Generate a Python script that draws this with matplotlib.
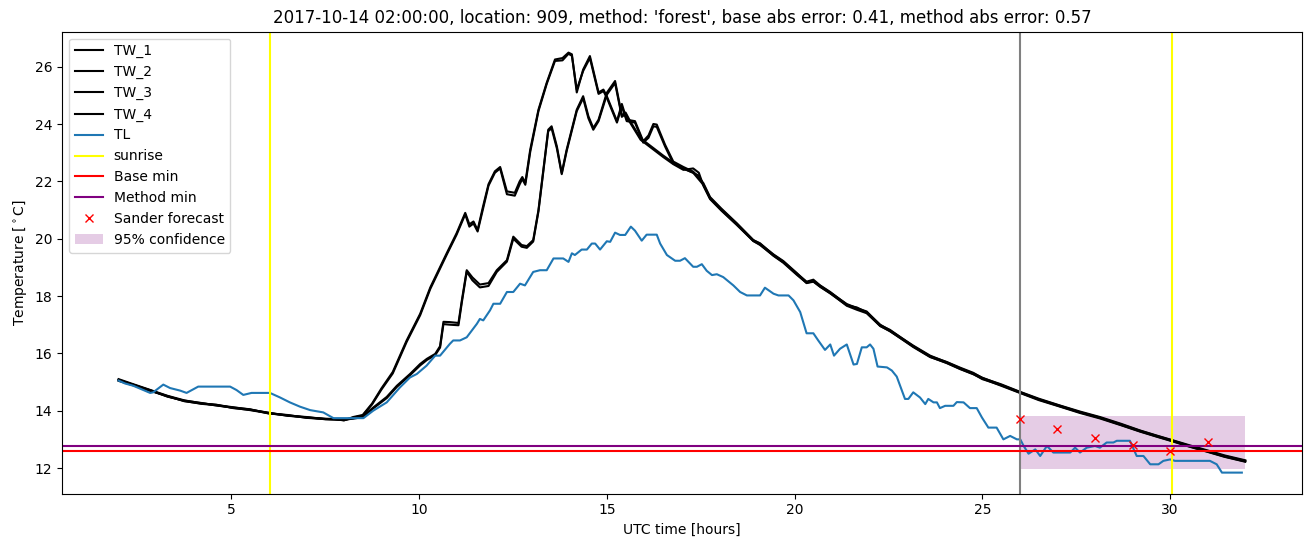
import numpy as np
import matplotlib
matplotlib.use("Agg")
import matplotlib.pyplot as plt

# vertices (hours, deg C)
t_a = [2.0, 2.4, 2.85, 3.3, 3.75, 4.2, 4.6, 5.05, 5.5, 6.0, 6.5, 7.0, 7.5, 7.75, 8.0, 8.25, 8.5,
       8.75, 9.0, 9.3, 9.67, 10.03, 10.3, 10.74, 11.0, 11.23, 11.34, 11.45, 11.56, 11.7, 11.85,
       12.02, 12.16, 12.34, 12.55, 12.68, 12.75, 12.83, 12.96, 13.18, 13.4, 13.62, 13.82, 13.98,
       14.07, 14.2, 14.37, 14.55, 14.78, 14.91, 15.0, 15.13, 15.27, 15.4, 15.53, 15.75, 15.97,
       16.11, 16.24, 16.33, 16.55, 16.77, 17.04, 17.3, 17.57, 17.75, 18.05, 18.46, 18.9, 19.08,
       19.44, 19.7, 20.06, 20.32, 20.5, 20.68, 20.95, 21.39, 21.66, 21.92, 22.28, 22.54, 23.16,
       23.61, 24.05, 24.41, 24.76, 25.0, 25.5, 26.0, 26.5, 27.07, 27.6, 28.13, 28.7, 29.2, 29.65,
       30.09, 30.5, 30.98, 31.45, 32.0]
tw_1 = [15.10, 14.92, 14.72, 14.52, 14.36, 14.26, 14.20, 14.12, 14.04, 13.92, 13.84, 13.77, 13.72,
        13.71, 13.66, 13.78, 13.85, 14.25, 14.78, 15.35, 16.45, 17.38, 18.3, 19.5, 20.19, 20.9,
        20.5, 20.6, 20.3, 21.1, 21.9, 22.35, 22.5, 21.65, 21.6, 22.0, 22.15, 21.95, 23.1, 24.5,
        25.44, 26.25, 26.3, 26.49, 26.43, 25.1, 25.9, 26.37, 25.1, 25.2, 24.97, 24.55, 24.1, 24.7,
        24.15, 24.1, 23.4, 23.6, 24.0, 23.98, 23.28, 22.69, 22.5, 22.34, 21.94, 21.45, 21.05,
        20.54, 19.95, 19.84, 19.43, 19.2, 18.78, 18.5, 18.57, 18.37, 18.14, 17.7, 17.56, 17.44,
        17.0, 16.8, 16.27, 15.92, 15.69, 15.48, 15.3, 15.15, 14.9, 14.65, 14.4, 14.17, 13.95,
        13.76, 13.52, 13.3, 13.12, 12.95, 12.78, 12.6, 12.42, 12.25]
tw_2 = [15.06, 14.90, 14.70, 14.50, 14.34, 14.24, 14.19, 14.10, 14.02, 13.91, 13.83, 13.76, 13.71,
        13.70, 13.68, 13.76, 13.83, 14.22, 14.74, 15.30, 16.40, 17.33, 18.25, 19.45, 20.14, 20.85,
        20.42, 20.53, 20.25, 21.02, 21.85, 22.3, 22.45, 21.55, 21.5, 21.9, 22.08, 21.88, 23.02,
        24.45, 25.4, 26.2, 26.22, 26.45, 26.38, 25.2, 25.85, 26.3, 25.05, 25.15, 24.92, 24.5,
        24.05, 24.62, 24.1, 24.05, 23.35, 23.52, 23.92, 23.9, 23.22, 22.62, 22.44, 22.3, 21.88,
        21.4, 21.0, 20.5, 19.92, 19.8, 19.4, 19.16, 18.74, 18.46, 18.52, 18.33, 18.1, 17.66,
        17.52, 17.4, 16.96, 16.77, 16.24, 15.88, 15.66, 15.45, 15.27, 15.12, 14.87, 14.62, 14.37,
        14.14, 13.92, 13.73, 13.49, 13.27, 13.09, 12.92, 12.75, 12.57, 12.39, 12.22]

t_b = [2.0, 2.4, 2.85, 3.3, 3.75, 4.2, 4.6, 5.05, 5.5, 6.0, 6.5, 7.0, 7.5, 7.75, 8.0, 8.25, 8.5,
       8.78, 9.14, 9.41, 9.76, 10.03, 10.21, 10.43, 10.56, 10.65, 10.82, 11.05, 11.14, 11.27,
       11.42, 11.62, 11.85, 12.07, 12.34, 12.51, 12.73, 12.87, 13.04, 13.18, 13.31, 13.44, 13.53,
       13.67, 13.8, 13.93, 14.2, 14.37, 14.51, 14.64, 14.78, 15.0, 15.22, 15.4, 15.5, 15.62, 15.9,
       16.2, 16.5, 16.77, 17.04, 17.3, 17.45, 17.57, 17.75, 18.05, 18.46, 18.9, 19.08, 19.44,
       19.7, 20.06, 20.32, 20.5, 20.68, 20.95, 21.39, 21.66, 21.92, 22.28, 22.54, 23.16, 23.61,
       24.05, 24.41, 24.76, 25.0, 25.5, 26.0, 26.5, 27.07, 27.6, 28.13, 28.7, 29.2, 29.65, 30.09,
       30.5, 30.98, 31.45, 32.0]
tw_3 = [15.08, 14.90, 14.71, 14.49, 14.35, 14.27, 14.18, 14.11, 14.05, 13.90, 13.85, 13.75, 13.71,
        13.70, 13.67, 13.74, 13.80, 14.11, 14.48, 14.87, 15.28, 15.63, 15.81, 15.98, 16.25, 17.1,
        17.09, 17.06, 17.85, 18.9, 18.65, 18.4, 18.45, 18.9, 19.25, 20.07, 19.78, 19.74, 19.95,
        21.0, 22.4, 23.8, 23.92, 23.22, 22.29, 23.1, 24.5, 24.97, 24.27, 23.86, 24.15, 25.09,
        25.5, 24.3, 24.4, 24.1, 23.5, 23.2, 22.9, 22.65, 22.45, 22.3, 22.2, 21.9, 21.42, 21.02,
        20.52, 19.95, 19.82, 19.45, 19.22, 18.8, 18.48, 18.52, 18.36, 18.12, 17.72, 17.58, 17.46,
        16.98, 16.82, 16.25, 15.9, 15.7, 15.5, 15.32, 15.14, 14.92, 14.66, 14.42, 14.18, 13.97,
        13.78, 13.54, 13.31, 13.13, 12.96, 12.8, 12.62, 12.44, 12.27]
tw_4 = [15.04, 14.88, 14.69, 14.51, 14.33, 14.25, 14.21, 14.09, 14.03, 13.93, 13.82, 13.78, 13.70,
        13.69, 13.69, 13.72, 13.78, 14.08, 14.44, 14.83, 15.24, 15.58, 15.77, 15.94, 16.2, 17.02,
        17.0, 16.98, 17.78, 18.85, 18.55, 18.3, 18.35, 18.84, 19.2, 20.0, 19.72, 19.68, 19.9,
        20.95, 22.35, 23.75, 23.85, 23.15, 22.25, 23.05, 24.45, 24.9, 24.2, 23.8, 24.1, 25.02,
        25.43, 24.25, 24.35, 24.05, 23.45, 23.15, 22.85, 22.6, 22.4, 22.45, 22.3, 21.85, 21.38,
        20.98, 20.48, 19.92, 19.78, 19.41, 19.18, 18.76, 18.45, 18.5, 18.32, 18.09, 17.68, 17.6,
        17.42, 16.95, 16.78, 16.22, 15.87, 15.67, 15.46, 15.28, 15.1, 14.89, 14.63, 14.39, 14.15,
        13.94, 13.75, 13.5, 13.28, 13.1, 12.93, 12.76, 12.58, 12.4, 12.23]

t_tl = [2.0, 2.17, 2.39, 2.66, 2.84, 2.92, 3.19, 3.37, 3.64, 3.81, 3.95, 4.12, 4.97, 5.14, 5.32,
        5.54, 6.03, 6.3, 6.56, 6.83, 7.1, 7.45, 7.72, 8.52, 8.78, 9.14, 9.49, 9.76, 9.94, 10.2,
        10.43, 10.56, 10.82, 10.91, 11.09, 11.27, 11.54, 11.62, 11.71, 11.89, 11.98, 12.16, 12.34,
        12.51, 12.69, 12.82, 13.04, 13.22, 13.4, 13.58, 13.84, 13.98, 14.07, 14.15, 14.33, 14.47,
        14.6, 14.69, 14.82, 15.0, 15.09, 15.22, 15.35, 15.49, 15.64, 15.75, 15.93, 16.06, 16.33,
        16.42, 16.6, 16.82, 16.95, 17.08, 17.3, 17.4, 17.53, 17.66, 17.8, 17.93, 18.1, 18.37,
        18.55, 18.73, 19.08, 19.21, 19.44, 19.57, 19.84, 19.97, 20.15, 20.32, 20.5, 20.63, 20.81,
        20.95, 21.05, 21.21, 21.39, 21.57, 21.66, 21.79, 21.92, 22.01, 22.1, 22.21, 22.46, 22.59,
        22.72, 22.94, 23.03, 23.16, 23.34, 23.48, 23.56, 23.7, 23.79, 23.87, 24.01, 24.23, 24.32,
        24.5, 24.67, 24.85, 24.99, 25.16, 25.38, 25.56, 25.74, 25.92, 26.01, 26.1, 26.23, 26.41,
        26.54, 26.72, 26.89, 27.34, 27.47, 27.6, 27.78, 28.0, 28.13, 28.31, 28.49, 28.58, 28.93,
        29.11, 29.29, 29.47, 29.69, 29.82, 30.0, 30.13, 31.06, 31.24, 31.38, 31.91]
tl = [15.05, 14.95, 14.87, 14.72, 14.62, 14.64, 14.91, 14.79, 14.70, 14.62, 14.72, 14.84, 14.84,
      14.72, 14.55, 14.62, 14.62, 14.46, 14.29, 14.14, 14.02, 13.94, 13.74, 13.74, 14.0, 14.29,
      14.81, 15.16, 15.28, 15.57, 15.92, 15.92, 16.33, 16.45, 16.45, 16.56, 17.03, 17.2, 17.15,
      17.5, 17.73, 17.73, 18.14, 18.14, 18.43, 18.37, 18.84, 18.9, 18.9, 19.31, 19.31, 19.19,
      19.49, 19.43, 19.62, 19.62, 19.83, 19.83, 19.62, 19.91, 19.89, 20.21, 20.13, 20.13, 20.42,
      20.28, 19.93, 20.14, 20.14, 19.83, 19.43, 19.23, 19.23, 19.32, 19.02, 19.02, 19.11, 18.88,
      18.73, 18.76, 18.66, 18.37, 18.14, 18.02, 18.02, 18.29, 18.08, 18.02, 18.02, 17.85, 17.44,
      16.70, 16.70, 16.45, 16.12, 16.31, 15.92, 16.16, 16.31, 15.61, 15.63, 16.21, 16.21, 16.31,
      16.16, 15.54, 15.51, 15.40, 15.19, 14.41, 14.41, 14.64, 14.46, 14.23, 14.41, 14.29, 14.29,
      14.09, 14.17, 14.17, 14.30, 14.29, 14.09, 14.09, 13.76, 13.41, 13.41, 13.0, 13.12, 13.0,
      13.0, 12.77, 12.50, 12.65, 12.42, 12.77, 12.54, 12.54, 12.71, 12.54, 12.71, 12.77, 12.71,
      12.89, 12.89, 12.95, 12.95, 12.42, 12.42, 12.13, 12.13, 12.25, 12.30, 12.25, 12.25, 12.13,
      11.84, 11.84]

sunrise = [6.03, 30.05]
now = 26.0
base_min = 12.60
method_min = 12.77
fc_hours = [26, 27, 28, 29, 30, 31]
fc_values = [13.71, 13.36, 13.04, 12.81, 12.60, 12.92]
conf_hours = [26, 32]
conf_low = [11.97, 11.97]
conf_high = [13.82, 13.82]

fig, ax = plt.subplots(figsize=(13.11, 5.47), dpi=100)
plt.subplots_adjust(left=0.0475, right=0.9928, top=0.9422, bottom=0.0976)

ax.plot(t_a, tw_1, color="black", label="TW_1")
ax.plot(t_a, tw_2, color="black", label="TW_2")
ax.plot(t_b, tw_3, color="black", label="TW_3")
ax.plot(t_b, tw_4, color="black", label="TW_4")
ax.plot(t_tl, tl, color="C0", label="TL")
for i, s in enumerate(sunrise):
    ax.axvline(s, color="yellow", label="sunrise" if i == 0 else None)
ax.axvline(now, color="gray")
ax.axhline(base_min, color="red", label="Base min")
ax.axhline(method_min, color="purple", label="Method min")
ax.plot(fc_hours, fc_values, "rx", label="Sander forecast")
ax.fill_between(conf_hours, conf_low, conf_high, color="purple", alpha=0.2, linewidth=0,
                label="95% confidence")

ax.set_xlabel("UTC time [hours]")
ax.set_ylabel(r"Temperature [$^\circ$C]")
ax.set_title("2017-10-14 02:00:00, location: 909, method: 'forest', "
             "base abs error: 0.41, method abs error: 0.57")
ax.legend(loc="upper left")

plt.savefig("out.png")
